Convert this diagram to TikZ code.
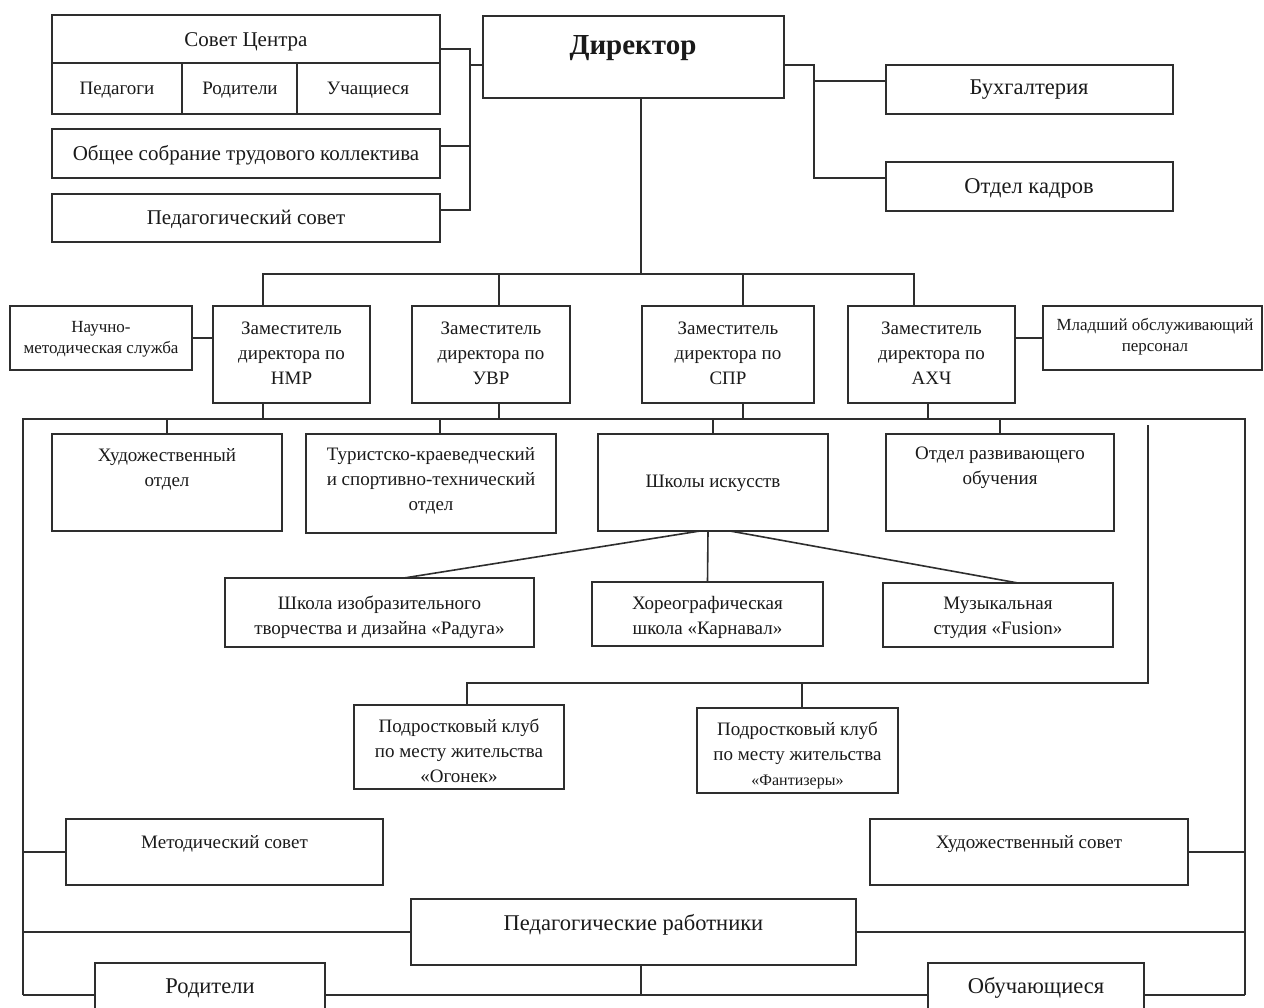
\documentclass[tikz,border=0pt]{standalone}
\usepackage{fontspec}
\setmainfont{Liberation Serif}
\usetikzlibrary{calc}
\definecolor{linec}{HTML}{2E2E2E}
\definecolor{txtc}{HTML}{1A1A1A}
\begin{document}
\begin{tikzpicture}[x=1pt,y=-1pt,
  box/.style={draw=linec, line width=1.6pt, inner sep=0pt, outer sep=0pt, anchor=north west},
  txt/.style={text=txtc, font=\fontsize{19}{25}\selectfont, align=center, inner sep=0pt},
  mtxt/.style={text=txtc, font=\fontsize{21}{26}\selectfont, align=center, inner sep=0pt},
  btxt/.style={text=txtc, font=\fontsize{22.5}{27}\selectfont, align=center, inner sep=0pt},
  stxt/.style={text=txtc, font=\fontsize{17}{21}\selectfont, align=center, inner sep=0pt},
  conn/.style={draw=linec, line width=1.6pt}]
\useasboundingbox (0,0) rectangle (1264,1008);
\fill[white] (0,0) rectangle (1264,1008);
\clip (0,0) rectangle (1264,1008);

% ---------- top left group ----------
\node[box, minimum width=388pt, minimum height=99pt] (sovet) at (52,15) {};
\coordinate (sdiv) at (52,63);
\draw[conn] (sdiv) -- (sdiv -| sovet.east);
\draw[conn] (182,63) -- (182,114);
\draw[conn] (297,63) -- (297,114);
\node[mtxt] (sovet-t) at (246,42) {Совет Центра};
\node[txt] (ped-t) at (117,90) {Педагоги};
\node[txt] (rodc-t) at (240,90) {Родители};
\node[txt] (uch-t) at (368,90) {Учащиеся};
\node[box, minimum width=388pt, minimum height=49pt] (obsh) at (52,129) {};
\node[mtxt] (obsh-t) at (246,155) {Общее собрание трудового коллектива};
\node[box, minimum width=388pt, minimum height=48pt] (psov) at (52,194) {};
\node[mtxt] (psov-t) at (246,219) {Педагогический совет};

% ---------- director ----------
\node[box, minimum width=301pt, minimum height=82pt] (dir) at (483,16) {};
\node[text=txtc, inner sep=0pt, font=\fontsize{29}{34}\selectfont\bfseries] (dir-t) at (633,48) {Директор};
\node[box, minimum width=287pt, minimum height=49pt] (buh) at (886,65) {};
\node[btxt] (buh-t) at (1029,90) {Бухгалтерия};
\node[box, minimum width=287pt, minimum height=49pt] (kadr) at (886,162) {};
\node[btxt] (kadr-t) at (1029,188) {Отдел кадров};

% ---------- deputies ----------
\node[box, minimum width=182pt, minimum height=64pt] (nauch) at (10,306) {};
\node[stxt] (nauch-t) at (101,339) {Научно-\\методическая служба};
\node[box, minimum width=157pt, minimum height=97pt] (nmr) at (213,306) {};
\node[txt] (nmr-t) at (291.5,353) {Заместитель\\директора по\\НМР};
\node[box, minimum width=158pt, minimum height=97pt] (uvr) at (412,306) {};
\node[txt] (uvr-t) at (491,353) {Заместитель\\директора по\\УВР};
\node[box, minimum width=172pt, minimum height=97pt] (spr) at (642,306) {};
\node[txt] (spr-t) at (728,353) {Заместитель\\директора по\\СПР};
\node[box, minimum width=167pt, minimum height=97pt] (ahch) at (848,306) {};
\node[txt] (ahch-t) at (931.5,353) {Заместитель\\директора по\\АХЧ};
\node[box, minimum width=219pt, minimum height=64pt] (mlad) at (1043,306) {};
\node[stxt] (mlad-t) at (1155,337) {Младший обслуживающий\\персонал};

% ---------- departments ----------
\node[box, minimum width=230pt, minimum height=97pt] (hud) at (52,434) {};
\node[txt] (hud-t) at (167,469) {Художественный\\отдел};
\node[box, minimum width=250pt, minimum height=99pt] (tur) at (306,434) {};
\node[txt] (tur-t) at (431,481) {Туристско-краеведческий\\и спортивно-технический\\отдел};
\node[box, minimum width=230pt, minimum height=97pt] (shk) at (598,434) {};
\node[txt] (shk-t) at (713,483) {Школы искусств};
\node[box, minimum width=228pt, minimum height=97pt] (razv) at (886,434) {};
\node[txt] (razv-t) at (1000,468) {Отдел развивающего\\обучения};

% ---------- schools ----------
\node[box, minimum width=309pt, minimum height=69pt] (rad) at (225,578) {};
\node[txt] (rad-t) at (379.5,617) {Школа изобразительного\\творчества и дизайна «Радуга»};
\node[box, minimum width=231pt, minimum height=64pt] (karn) at (592,582) {};
\node[txt] (karn-t) at (707.5,617) {Хореографическая\\школа «Карнавал»};
\node[box, minimum width=230pt, minimum height=64pt] (fus) at (883,583) {};
\node[txt] (fus-t) at (998,618) {Музыкальная\\студия «Fusion»};

% ---------- clubs ----------
\node[box, minimum width=210pt, minimum height=84pt] (ogon) at (354,705) {};
\node[txt] (ogon-t) at (459,751) {Подростковый клуб\\по месту жительства\\«Огонек»};
\node[box, minimum width=201pt, minimum height=85pt] (fant) at (697,708) {};
\node[txt] (fant-t) at (797.5,755) {Подростковый клуб\\по месту жительства\\{\fontsize{16}{20}\selectfont«Фантизеры»}};

% ---------- councils and people ----------
\node[box, minimum width=317pt, minimum height=66pt] (metod) at (66,819) {};
\node[txt] (metod-t) at (224.5,844) {Методический совет};
\node[box, minimum width=318pt, minimum height=66pt] (hsov) at (870,819) {};
\node[txt] (hsov-t) at (1029,844) {Художественный совет};
\node[box, minimum width=445pt, minimum height=66pt] (pedr) at (411,899) {};
\node[btxt] (pedr-t) at (633.5,925) {Педагогические работники};
\node[box, minimum width=230pt, minimum height=80pt] (rod) at (95,963) {};
\node[btxt] (rod-t) at (210,988) {Родители};
\node[box, minimum width=216pt, minimum height=80pt] (obuch) at (928,963) {};
\node[btxt] (obuch-t) at (1036,988) {Обучающиеся};

% ---------- junctions ----------
\coordinate (jl0) at (470,65);
\coordinate (jl1) at (470,49);
\coordinate (jl2) at (470,146);
\coordinate (jl3) at (470,210);
\coordinate (jr0) at (814,65);
\coordinate (jr1) at (814,81);
\coordinate (jr2) at (814,178);
\coordinate (b1a) at (263,274);
\coordinate (b1b) at (499,274);
\coordinate (b1c) at (743,274);
\coordinate (b1d) at (914,274);
\coordinate (dd) at (641,274);
\coordinate (L) at (23,419);
\coordinate (R) at (1245,419);
\coordinate (b2d) at (928,419);
\coordinate (b2t) at (440,419);
\coordinate (c1) at (1148,425);
\coordinate (c2) at (1148,683);
\coordinate (c3) at (467,683);
\coordinate (c4) at (802,683);
\coordinate (B1) at (23,995);
\coordinate (B2) at (1245,995);
\coordinate (pd) at (641,995);

% ---------- connectors ----------
\draw[conn] (sovet.east |- jl1) -- (jl1) -- (jl3) -- (psov.east |- jl3);
\draw[conn] (obsh.east |- jl2) -- (jl2);
\draw[conn] (jl0) -- (dir.west |- jl0);
\draw[conn] (dir.east |- jr0) -- (jr0) -- (jr2) -- (kadr.west |- jr2);
\draw[conn] (jr1) -- (buh.west |- jr1);
\draw[conn] (dir.south -| dd) -- (dd);
\draw[conn] (nmr.north -| b1a) -- (b1a) -- (b1d) -- (ahch.north -| b1d);
\draw[conn] (uvr.north -| b1b) -- (b1b);
\draw[conn] (spr.north -| b1c) -- (b1c);
\draw[conn] (nauch.east) -- (nmr.west |- nauch.east);
\draw[conn] (ahch.east |- mlad.west) -- (mlad.west);

\draw[conn] (nmr.south -| b1a) -- (b1a |- L);
\draw[conn] (uvr.south -| b1b) -- (b1b |- L);
\draw[conn] (spr.south -| b1c) -- (b1c |- L);
\draw[conn] (ahch.south -| b2d) -- (b2d);
\draw[conn] (hud.north) -- (hud.north |- L);
\draw[conn] (tur.north -| b2t) -- (b2t);
\draw[conn] (shk.north) -- (shk.north |- L);
\draw[conn] (razv.north) -- (razv.north |- L);

\draw[conn] ([xshift=-13pt]shk.south) -- ([xshift=24.5pt]rad.north);
\draw[conn] ([xshift=-5pt]shk.south) -- (karn.north);
\draw[conn] ([xshift=17pt]shk.south) -- ([xshift=20pt]fus.north);

\draw[conn] (c1) -- (c2) -- (c3) -- (ogon.north -| c3);
\draw[conn] (c4) -- (fant.north -| c4);

\draw[conn] (B1) -- (L) -- (R) -- (B2);
\draw[conn] (B1) -- (rod.west |- B1);
\draw[conn] (rod.east |- B1) -- (obuch.west |- B1);
\draw[conn] (obuch.east |- B2) -- (B2);
\draw[conn] (metod.west) -- (metod.west -| L);
\draw[conn] (hsov.east) -- (hsov.east -| R);
\draw[conn] (pedr.west) -- (pedr.west -| L);
\draw[conn] (pedr.east) -- (pedr.east -| R);
\draw[conn] (pedr.south -| pd) -- (pd);
\end{tikzpicture}
\end{document}
